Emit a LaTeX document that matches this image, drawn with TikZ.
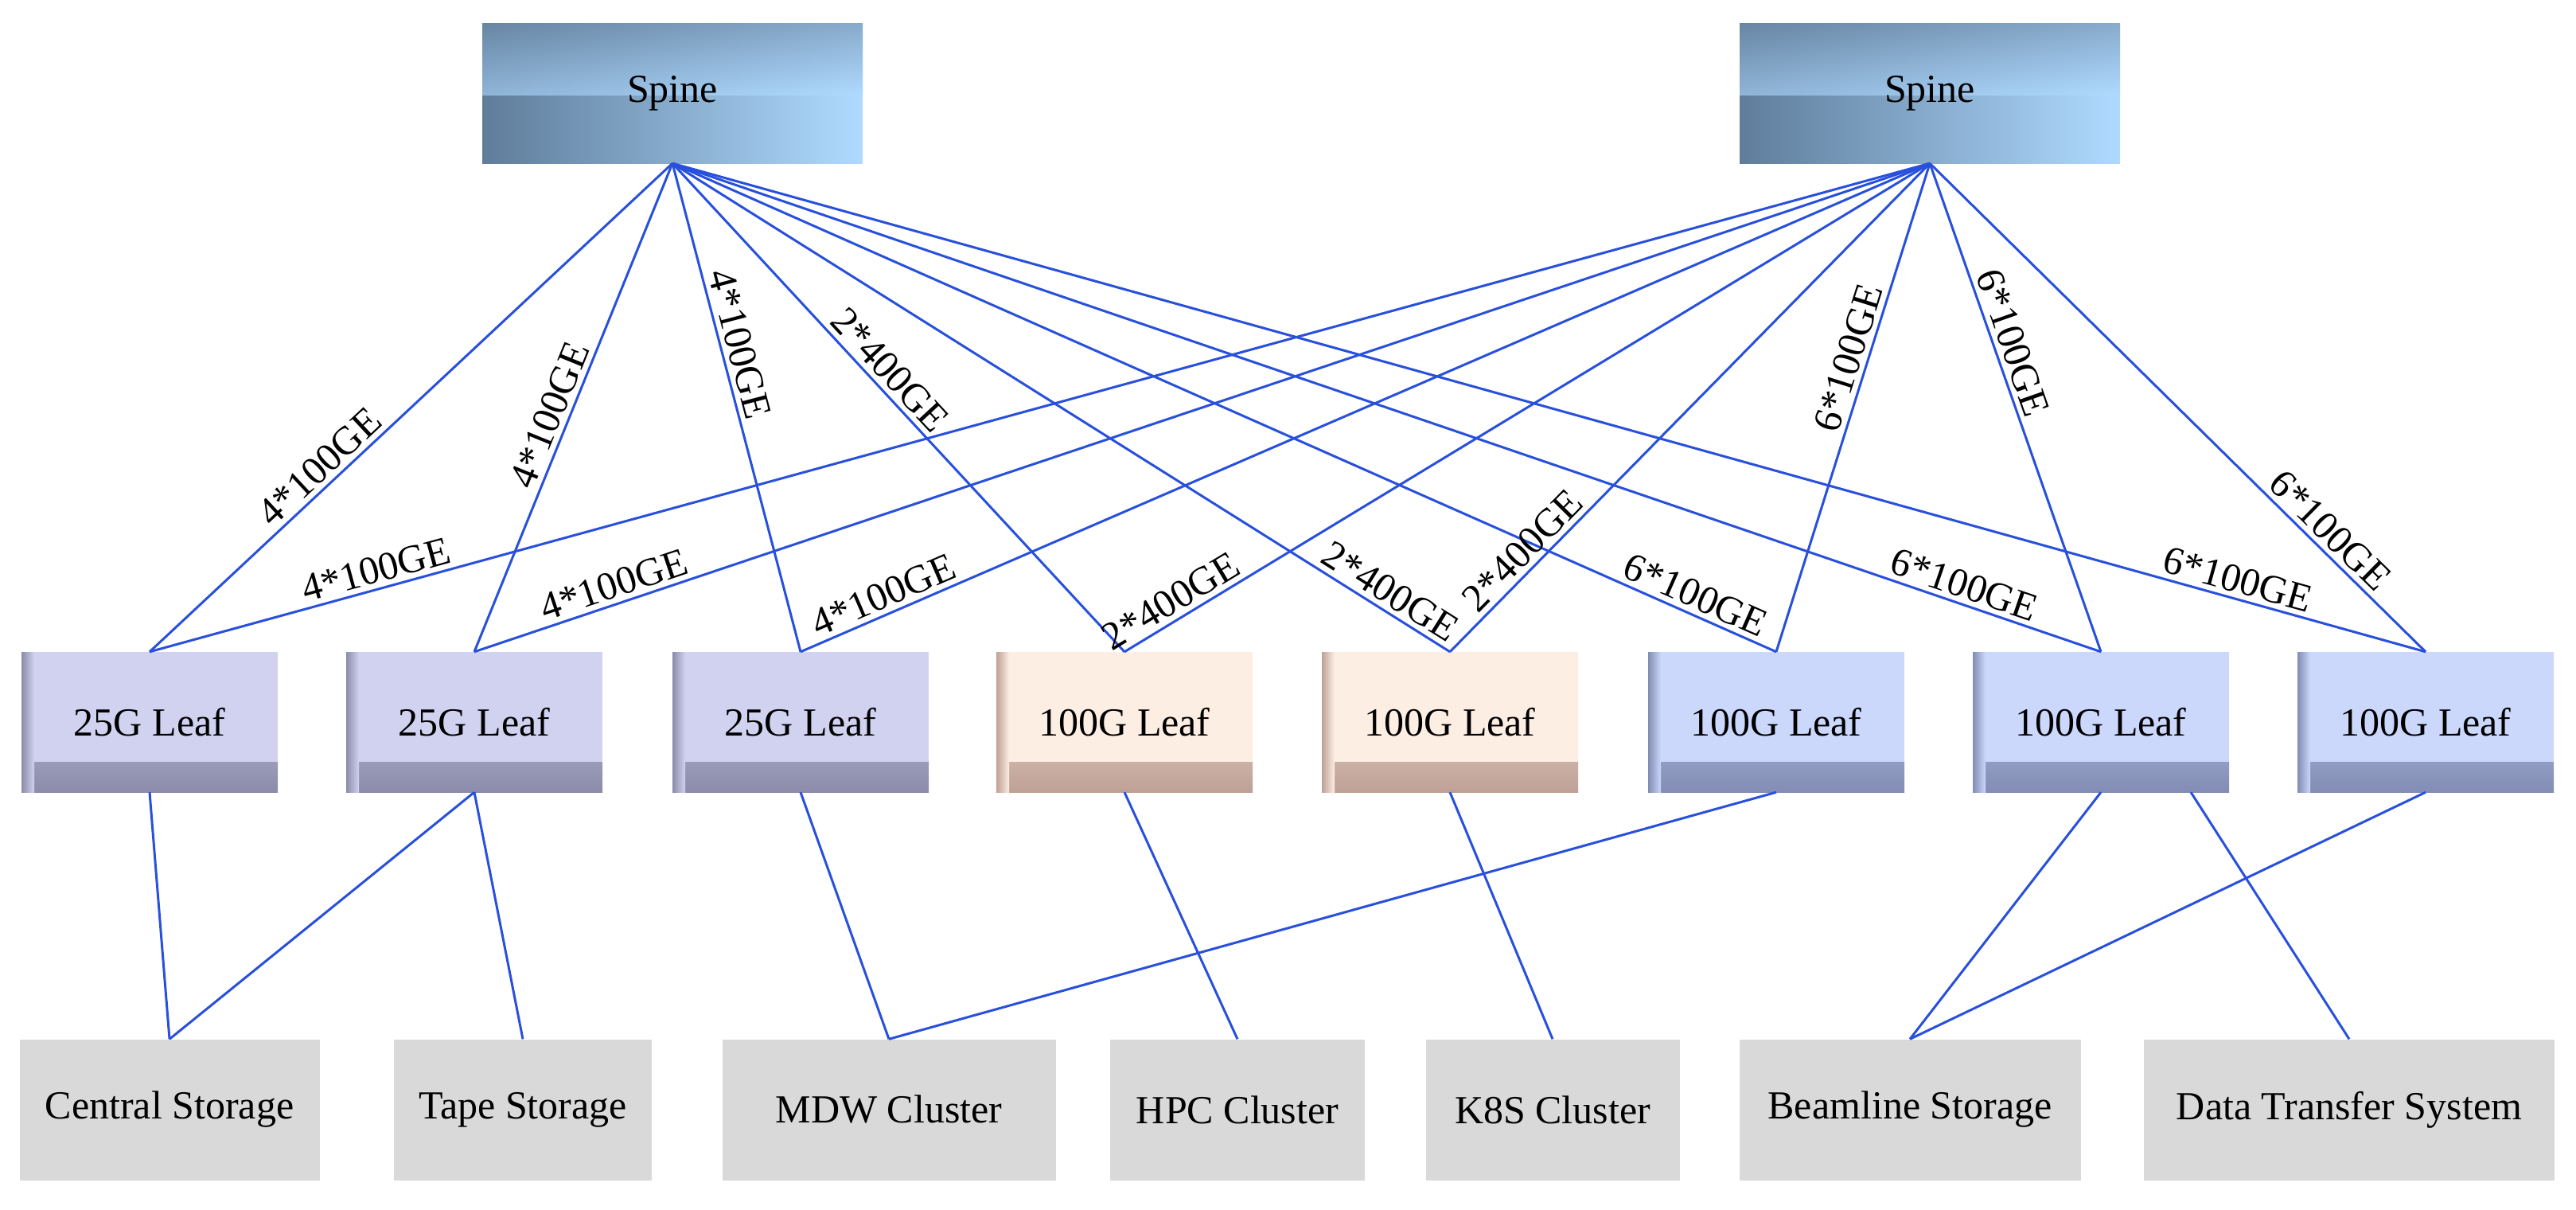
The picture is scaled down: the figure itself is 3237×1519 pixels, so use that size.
\documentclass[tikz,border=0pt]{standalone}
\usepackage{fontspec}
\setmainfont{Liberation Serif}
\definecolor{lnk}{RGB}{40,80,220}
\definecolor{spdark}{RGB}{95,125,155}
\definecolor{spmid}{RGB}{110,140,170}
\definecolor{splight}{RGB}{175,218,255}
\definecolor{pA}{RGB}{208,210,240}\definecolor{pB}{RGB}{140,140,170}
\definecolor{oA}{RGB}{253,238,228}\definecolor{oB}{RGB}{190,160,150}
\definecolor{bA}{RGB}{203,216,251}\definecolor{bB}{RGB}{130,140,180}
\definecolor{gry}{RGB}{217,217,217}
\begin{document}
\begin{tikzpicture}[x=1pt,y=-1pt,
  link/.style={draw=lnk,line width=3pt},
  lab/.style={font=\fontsize{50}{50}\selectfont,sloped,above,inner sep=6pt},
  box/.style={inner sep=0pt,font=\fontsize{50}{50}\selectfont},
  spine/.style={box,minimum width=478pt,minimum height=176pt,
    path picture={\shade[shading angle=135,left color=spdark,right color=splight]
      (path picture bounding box.south west) rectangle (path picture bounding box.north east);
      \shade[top color=spmid,bottom color=splight,opacity=0.6]
      (path picture bounding box.north west) rectangle ([yshift=-90pt]path picture bounding box.north east);}},
  leaf/.style 2 args={box,minimum width=322pt,minimum height=176pt,fill=#1,
    path picture={\shade[top color=#1,bottom color=#2]
      ([yshift=38pt]path picture bounding box.south west) rectangle (path picture bounding box.south east);
      \shade[left color=#2,right color=#1]
      (path picture bounding box.south west) rectangle ([xshift=16pt]path picture bounding box.north west);}},
  lp/.style={leaf={pA}{pB}},
  lo/.style={leaf={oA}{oB}},
  lb/.style={leaf={bA}{bB}},
  dev/.style={box,minimum height=177pt,fill=gry}
]
\useasboundingbox (0,0) rectangle (3237,1519);
\node[spine] (sl) at (845,117) {Spine};
\node[spine] (sr) at (2425,117) {Spine};
\node[lp] (l1) at (188,907) {25G Leaf};
\node[lp] (l2) at (596,907) {25G Leaf};
\node[lp] (l3) at (1006,907) {25G Leaf};
\node[lo] (l4) at (1413,907) {100G Leaf};
\node[lo] (l5) at (1822,907) {100G Leaf};
\node[lb] (l6) at (2232,907) {100G Leaf};
\node[lb] (l7) at (2640,907) {100G Leaf};
\node[lb] (l8) at (3048,907) {100G Leaf};
\node[dev,minimum width=377pt] (cs) at (213,1394) {Central Storage};
\node[dev,minimum width=324pt] (ts) at (657,1394) {Tape Storage};
\node[dev,minimum width=419pt] (mdw) at (1117,1394) {MDW Cluster};
\node[dev,minimum width=320pt] (hpc) at (1555,1394) {HPC Cluster};
\node[dev,minimum width=319pt] (k8s) at (1951,1394) {K8S Cluster};
\node[dev,minimum width=429pt] (bs) at (2400,1394) {Beamline Storage};
\node[dev,minimum width=516pt] (dts) at (2952,1394) {Data Transfer System};
\coordinate (l7b) at ([xshift=113pt]l7.south);
% spine links
\draw[link] (l1.north) -- node[lab,pos=0.35]{4*100GE} (sl.south);
\draw[link] (l2.north) -- node[lab,pos=0.47]{4*100GE} (sl.south);
\draw[link] (l3.north) -- node[lab,pos=0.62]{4*100GE} (sl.south);
\draw[link] (l4.north) -- node[lab,pos=0.55]{2*400GE} (sl.south);
\draw[link] (l5.north) -- node[lab,pos=0.09]{2*400GE} (sl.south);
\draw[link] (l6.north) -- node[lab,pos=0.08]{6*100GE} (sl.south);
\draw[link] (l7.north) -- node[lab,pos=0.10]{6*100GE} (sl.south);
\draw[link] (l8.north) -- node[lab,pos=0.11]{6*100GE} (sl.south);
\draw[link] (l1.north) -- node[lab,pos=0.13]{4*100GE} (sr.south);
\draw[link] (l2.north) -- node[lab,pos=0.10]{4*100GE} (sr.south);
\draw[link] (l3.north) -- node[lab,pos=0.08]{4*100GE} (sr.south);
\draw[link] (l4.north) -- node[lab,pos=0.07]{2*400GE} (sr.south);
\draw[link] (l5.north) -- node[lab,pos=0.18]{2*400GE} (sr.south);
\draw[link] (l6.north) -- node[lab,pos=0.59]{6*100GE} (sr.south);
\draw[link] (l7.north) -- node[lab,pos=0.62]{6*100GE} (sr.south);
\draw[link] (l8.north) -- node[lab,pos=0.22]{6*100GE} (sr.south);
% lower links
\draw[link] (l1.south) -- (cs.north);
\draw[link] (l2.south) -- (cs.north);
\draw[link] (l2.south) -- (ts.north);
\draw[link] (l3.south) -- (mdw.north);
\draw[link] (l6.south) -- (mdw.north);
\draw[link] (l4.south) -- (hpc.north);
\draw[link] (l5.south) -- (k8s.north);
\draw[link] (l7.south) -- (bs.north);
\draw[link] (l8.south) -- (bs.north);
\draw[link] (l7b) -- (dts.north);
\end{tikzpicture}
\end{document}
